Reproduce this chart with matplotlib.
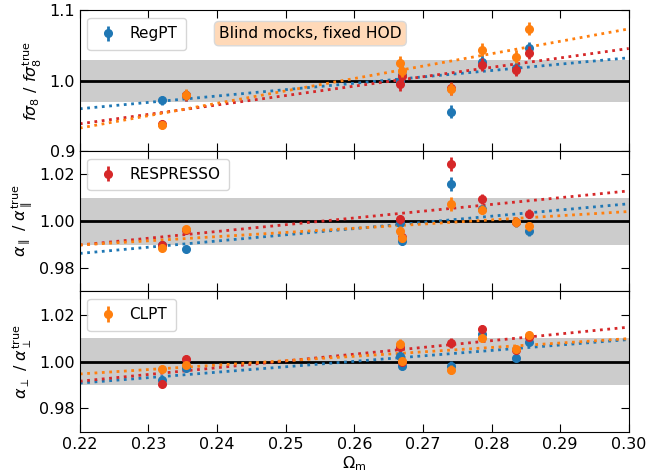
import numpy as np
import matplotlib
matplotlib.use("Agg")
import matplotlib.pyplot as plt

omega_m = [0.2320, 0.2355, 0.2666, 0.2669, 0.2741, 0.2786, 0.2835, 0.2855]

models = ["RegPT", "RESPRESSO", "CLPT"]
colors = ["C0", "C3", "C1"]

# fsigma8 ratio
fs8_regpt = [0.972, 0.979, 0.9995, 1.008, 0.956, 1.027, 1.0175, 1.046]
fs8_resp = [0.938, 0.979, 0.995, 1.006, 0.989, 1.023, 1.015, 1.040]
fs8_clpt = [0.937, 0.980, 1.0255, 1.014, 0.988, 1.044, 1.034, 1.074]
fs8_err = [0.006, 0.008, 0.010, 0.009, 0.009, 0.009, 0.009, 0.009]

# alpha parallel ratio
apar_regpt = [0.990, 0.988, 0.9992, 0.9916, 1.0158, 1.005, 0.9995, 0.9958]
apar_resp = [0.990, 0.996, 1.0007, 0.993, 1.0243, 1.0095, 0.9998, 1.0032]
apar_clpt = [0.9887, 0.9968, 0.9957, 0.9927, 1.0074, 1.0049, 0.9996, 0.9978]
apar_err = [0.0015, 0.0012, 0.0020, 0.0018, 0.0030, 0.0020, 0.0020, 0.0020]

# alpha perpendicular ratio
aperp_regpt = [0.9922, 0.9972, 1.0025, 0.9979, 0.9983, 1.0116, 1.0017, 1.0084]
aperp_resp = [0.9905, 1.0013, 1.0063, 1.0000, 1.0080, 1.0140, 1.0050, 1.0105]
aperp_clpt = [0.9969, 0.9987, 1.0077, 1.0001, 0.9965, 1.0100, 1.0053, 1.0112]
aperp_err = [0.0015, 0.0013, 0.0020, 0.0015, 0.0020, 0.0015, 0.0015, 0.0015]

# linear fits: values at Omega_m = 0.22 and 0.30
fit_x = [0.22, 0.30]
fs8_fits = [[0.960, 1.0326], [0.9386, 1.0458], [0.9325, 1.0737]]
apar_fits = [[0.9862, 1.0074], [0.9898, 1.0129], [0.9898, 1.0041]]
aperp_fits = [[0.9908, 1.0094], [0.9916, 1.0147], [0.9947, 1.0098]]

panels = [
    ([fs8_regpt, fs8_resp, fs8_clpt], fs8_err, fs8_fits, 0.03, (0.9, 1.1), [0.9, 1.0, 1.1],
     r'$f\sigma_8\ /\ f\sigma_8^{\rm true}$', 0),
    ([apar_regpt, apar_resp, apar_clpt], apar_err, apar_fits, 0.01, (0.97, 1.03), [0.98, 1.00, 1.02],
     r'$\alpha_\parallel\ /\ \alpha_\parallel^{\rm true}$', 1),
    ([aperp_regpt, aperp_resp, aperp_clpt], aperp_err, aperp_fits, 0.01, (0.97, 1.03), [0.98, 1.00, 1.02],
     r'$\alpha_\perp\ /\ \alpha_\perp^{\rm true}$', 2),
]

fig, axes = plt.subplots(3, 1, figsize=(6.71, 4.75), dpi=100, sharex=True)
fig.subplots_adjust(left=0.119, right=0.937, top=0.978, bottom=0.091, hspace=0)

for ax, (series, err, fits, band, ylim, yticks, ylabel, legidx) in zip(axes, panels):
    ax.axhspan(1 - band, 1 + band, color='0.8', zorder=0, lw=0)
    ax.axhline(1.0, color='k', lw=2, zorder=1)
    handles = []
    for i, (vals, col) in enumerate(zip(series, colors)):
        ax.plot(fit_x, fits[i], ls=':', color=col, lw=2, zorder=2)
    for i, (vals, col) in enumerate(zip(series, colors)):
        h = ax.errorbar(omega_m, vals, yerr=err, fmt='o', color=col, ms=5.5, elinewidth=2,
                        capsize=0, zorder=3 + i)
        handles.append(h)
    ax.legend([handles[legidx]], [models[legidx]], loc='upper left', fontsize=11,
              handlelength=1.6, handletextpad=0.6, borderpad=0.55)
    ax.set_ylim(*ylim)
    ax.set_yticks(yticks)
    ax.set_ylabel(ylabel, fontsize=11.5)
    ax.tick_params(direction='in', top=True, right=True, labelsize=11.5, length=6)
    ax.set_xlim(0.22, 0.30)

axes[0].set_yticklabels(['0.9', '1.0', '1.1'])
axes[0].text(0.42, 0.835, 'Blind mocks, fixed HOD', transform=axes[0].transAxes,
             ha='center', va='center', fontsize=11.2,
             bbox=dict(boxstyle='round,pad=0.3', facecolor=(1.0, 0.85, 0.72), edgecolor='0.85'))
axes[2].set_xticks(np.arange(0.22, 0.3001, 0.01))
axes[2].set_xlabel(r'$\Omega_{\rm m}$', fontsize=11.5, labelpad=2)

fig.savefig('out.png', dpi=100)
